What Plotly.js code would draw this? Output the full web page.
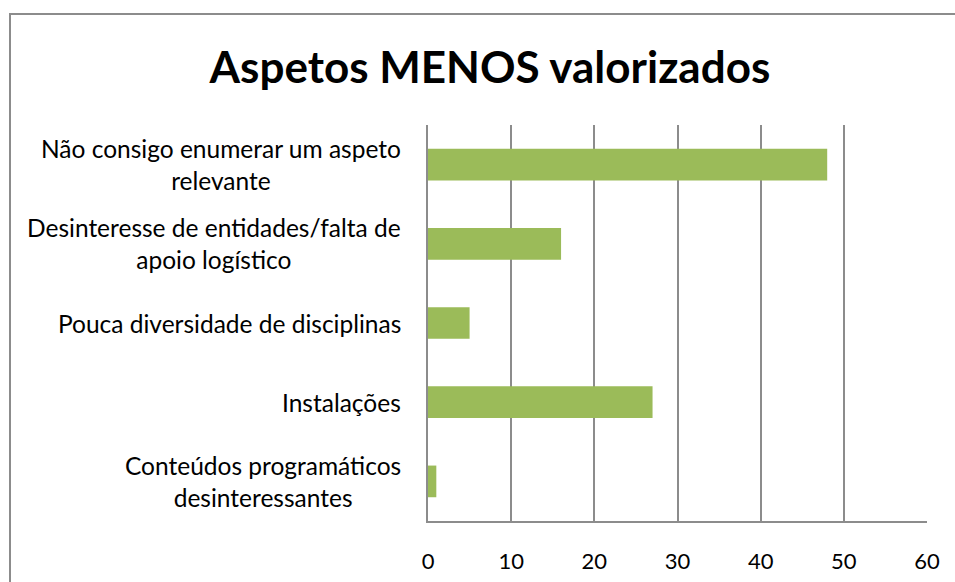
<!DOCTYPE html>
<html>
<head>
<meta charset="utf-8">
<script src="https://cdn.plot.ly/plotly-3.0.1.min.js"></script>
<style>
html,body{margin:0;padding:0;background:#fff;overflow:hidden;}
#wrap{position:relative;width:955px;height:582px;}
#frame{position:absolute;left:9px;top:13px;width:1000px;height:700px;border:2px solid #8c8c8c;box-sizing:border-box;}
#chart{position:absolute;left:0;top:0;width:955px;height:582px;}
</style>
</head>
<body>
<div id="wrap"><div id="frame"></div><div id="chart"></div></div>
<script>
const categories = [
  "Não consigo enumerar um aspeto relevante",
  "Desinteresse de entidades/falta de apoio logístico",
  "Pouca diversidade de disciplinas",
  "Instalações",
  "Conteúdos programáticos desinteressantes"
];
const labelLines = [
  ["Não consigo enumerar um aspeto", "relevante"],
  ["Desinteresse de entidades/falta de", "apoio logístico"],
  ["Pouca diversidade de disciplinas"],
  ["Instalações"],
  ["Conteúdos programáticos", "desinteressantes"]
];
const values = [48, 16, 5, 27, 1];
const xTicks = [0, 10, 20, 30, 40, 50, 60];

const FONT = "Lato, 'Open Sans', sans-serif";
const annotations = categories.map((c, i) => ({
  xref: 'paper', yref: 'y', x: 0, y: c, xanchor: 'right', yanchor: 'middle',
  xshift: -25, text: labelLines[i].join('<br>'), align: 'center', showarrow: false,
  font: {family: FONT, size: 24.5, color: '#000'}
}));

Plotly.newPlot('chart', [{
  type: 'bar', orientation: 'h', y: categories, x: values,
  marker: {color: '#9bbb59'}, width: 0.4, hoverinfo: 'none'
}], {
  width: 955, height: 582,
  paper_bgcolor: 'rgba(0,0,0,0)', plot_bgcolor: 'rgba(0,0,0,0)',
  margin: {l: 428, r: 28, t: 125, b: 61},
  title: {text: 'Aspetos MENOS valorizados', x: 0.513, xanchor: 'center', y: 0.883, yanchor: 'middle',
    font: {family: FONT, size: 44, color: '#000', weight: 'bold'}},
  xaxis: {range: [0, 60], tickvals: xTicks, ticktext: xTicks.map(String),
    showgrid: true, gridcolor: '#8c8c8c', gridwidth: 2, zeroline: false,
    showline: true, linecolor: '#8c8c8c', linewidth: 2, ticks: '',
    ticklabelstandoff: 20, tickfont: {family: FONT, size: 22, color: '#000'}, fixedrange: true},
  yaxis: {type: 'category', autorange: 'reversed', showticklabels: false, showgrid: false,
    zeroline: false, showline: true, linecolor: '#8c8c8c', linewidth: 2, ticks: '', fixedrange: true},
  annotations: annotations,
  showlegend: false
}, {staticPlot: true});
</script>
</body>
</html>
